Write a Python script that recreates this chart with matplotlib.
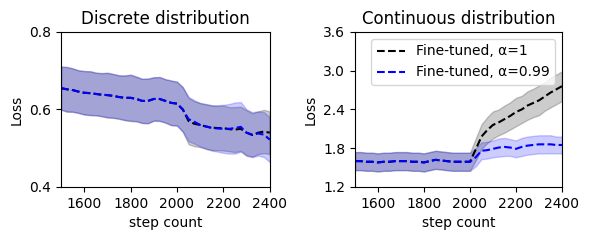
import numpy as np
import matplotlib.pyplot as plt

steps = list(range(1500, 2401, 25))

# discrete distribution: mean and std per run
disc_a1_mean = [0.655, 0.652, 0.650, 0.646, 0.643, 0.642, 0.640, 0.638, 0.637, 0.635,
                0.632, 0.630, 0.630, 0.627, 0.622, 0.622, 0.627, 0.627, 0.622, 0.617,
                0.615, 0.600, 0.570, 0.563, 0.560, 0.556, 0.553, 0.552, 0.552, 0.549,
                0.548, 0.550, 0.540, 0.534, 0.540, 0.543, 0.540]
disc_a99_mean = [0.655, 0.652, 0.650, 0.646, 0.643, 0.642, 0.640, 0.638, 0.637, 0.635,
                 0.632, 0.630, 0.630, 0.627, 0.622, 0.622, 0.627, 0.627, 0.622, 0.617,
                 0.615, 0.600, 0.575, 0.568, 0.560, 0.556, 0.552, 0.551, 0.550, 0.550,
                 0.552, 0.555, 0.540, 0.535, 0.538, 0.535, 0.522]
disc_a1_std = [0.056, 0.058, 0.056, 0.055, 0.056, 0.057, 0.055, 0.056, 0.058, 0.057,
               0.056, 0.058, 0.060, 0.058, 0.057, 0.058, 0.056, 0.057, 0.056, 0.058,
               0.057, 0.058, 0.060, 0.058, 0.057, 0.058, 0.058, 0.057, 0.058, 0.057,
               0.058, 0.057, 0.058, 0.056, 0.055, 0.056, 0.055]
disc_a99_std = [0.055, 0.057, 0.056, 0.055, 0.056, 0.056, 0.055, 0.055, 0.057, 0.056,
                0.056, 0.057, 0.059, 0.057, 0.057, 0.057, 0.056, 0.056, 0.056, 0.057,
                0.056, 0.057, 0.057, 0.056, 0.056, 0.057, 0.058, 0.060, 0.062, 0.064,
                0.066, 0.064, 0.060, 0.058, 0.057, 0.058, 0.058]

# continuous distribution
cont_a1_mean = [1.60, 1.60, 1.59, 1.59, 1.58, 1.59, 1.59, 1.60, 1.60, 1.60,
                1.59, 1.59, 1.58, 1.60, 1.62, 1.61, 1.60, 1.59, 1.59, 1.59,
                1.59, 1.78, 1.98, 2.08, 2.16, 2.20, 2.25, 2.30, 2.36, 2.40,
                2.46, 2.50, 2.54, 2.60, 2.66, 2.71, 2.76]
cont_a99_mean = [1.60, 1.60, 1.59, 1.59, 1.58, 1.59, 1.59, 1.60, 1.60, 1.60,
                 1.59, 1.59, 1.58, 1.60, 1.62, 1.61, 1.60, 1.59, 1.59, 1.59,
                 1.59, 1.66, 1.76, 1.77, 1.79, 1.81, 1.82, 1.81, 1.79, 1.82,
                 1.84, 1.85, 1.86, 1.86, 1.86, 1.85, 1.85]
cont_a1_std = [0.14, 0.14, 0.14, 0.14, 0.14, 0.14, 0.14, 0.14, 0.14, 0.14,
               0.14, 0.14, 0.14, 0.14, 0.14, 0.14, 0.14, 0.14, 0.14, 0.14,
               0.14, 0.17, 0.19, 0.20, 0.21, 0.20, 0.21, 0.21, 0.22, 0.21,
               0.22, 0.22, 0.23, 0.22, 0.23, 0.23, 0.23]
cont_a99_std = [0.14, 0.14, 0.14, 0.14, 0.14, 0.14, 0.14, 0.14, 0.14, 0.14,
                0.14, 0.14, 0.14, 0.14, 0.14, 0.14, 0.14, 0.14, 0.14, 0.14,
                0.14, 0.14, 0.13, 0.13, 0.13, 0.14, 0.14, 0.13, 0.13, 0.14,
                0.14, 0.14, 0.14, 0.14, 0.14, 0.13, 0.13]

labels = ["Fine-tuned, α=1", "Fine-tuned, α=0.99"]
colors = ["black", "blue"]

fig = plt.figure(figsize=(5.89, 2.4), dpi=100)
ax1 = fig.add_axes([0.1036, 0.221, 0.3544, 0.646])
ax2 = fig.add_axes([0.6027, 0.221, 0.3514, 0.646])

x = np.array(steps)


def draw(ax, means, stds):
    for m, s, c, lab in zip(means, stds, colors, labels):
        m = np.array(m)
        s = np.array(s)
        ax.fill_between(x, m - s, m + s, color=c, alpha=0.2)
        ax.plot(x, m, "--", color=c, label=lab)
    ax.set_xlim(1500, 2400)
    ax.set_xticks([1600, 1800, 2000, 2200, 2400])
    ax.set_xlabel("step count")
    ax.set_ylabel("Loss")


draw(ax1, [disc_a1_mean, disc_a99_mean], [disc_a1_std, disc_a99_std])
ax1.set_ylim(0.4, 0.8)
ax1.set_yticks([0.4, 0.6, 0.8])
ax1.set_title("Discrete distribution")

draw(ax2, [cont_a1_mean, cont_a99_mean], [cont_a1_std, cont_a99_std])
ax2.set_ylim(1.2, 3.6)
ax2.set_yticks([1.2, 1.8, 2.4, 3.0, 3.6])
ax2.set_title("Continuous distribution")
ax2.legend(loc="upper right")

fig.savefig("out.png", dpi=100)
